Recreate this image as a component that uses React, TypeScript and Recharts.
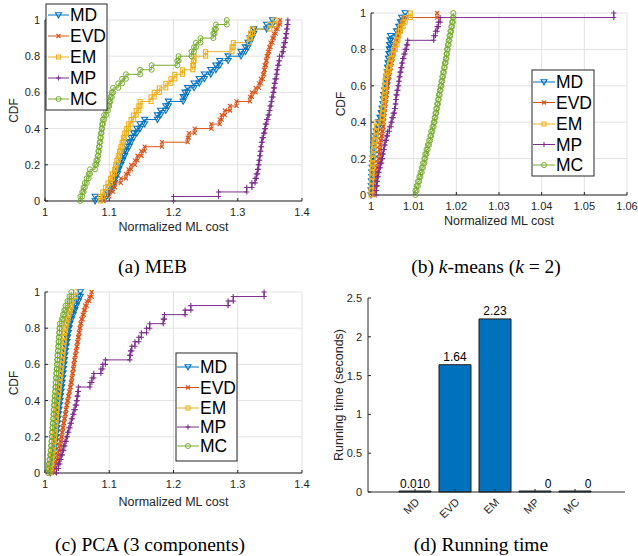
import React from 'react';
import { LineChart, Line, XAxis, YAxis, CartesianGrid, BarChart, Bar, LabelList } from 'recharts';

// ---------------- data ----------------
const methodNames = ['MD', 'EVD', 'EM', 'MP', 'MC'];
const methodColors = ['#0072BD', '#D95319', '#EDB120', '#7E2F8E', '#77AC30'];
const methodMarkers = ['v', 'x', 's', '+', 'o'];

// (a) MEB: sorted normalized ML cost samples per method
const mebMD = [1.078, 1.096, 1.100, 1.104, 1.108, 1.110, 1.113, 1.115, 1.118, 1.121, 1.124, 1.127, 1.131, 1.134, 1.138, 1.143, 1.148, 1.155, 1.175, 1.180, 1.188, 1.192, 1.215, 1.218, 1.222, 1.232, 1.240, 1.248, 1.258, 1.266, 1.272, 1.285, 1.305, 1.312, 1.316, 1.319, 1.322, 1.325, 1.345, 1.354];
const mebEVD = [1.091, 1.100, 1.106, 1.109, 1.118, 1.126, 1.130, 1.134, 1.140, 1.144, 1.150, 1.155, 1.182, 1.222, 1.224, 1.233, 1.259, 1.272, 1.275, 1.280, 1.288, 1.298, 1.319, 1.322, 1.328, 1.333, 1.336, 1.339, 1.341, 1.342, 1.344, 1.345, 1.347, 1.349, 1.351, 1.354, 1.356, 1.359, 1.362, 1.366];
const mebEM = [1.086, 1.090, 1.094, 1.098, 1.102, 1.105, 1.108, 1.110, 1.112, 1.114, 1.116, 1.118, 1.120, 1.122, 1.124, 1.127, 1.130, 1.134, 1.138, 1.142, 1.146, 1.148, 1.165, 1.170, 1.178, 1.188, 1.196, 1.202, 1.214, 1.230, 1.231, 1.232, 1.250, 1.291, 1.293, 1.318, 1.320, 1.323, 1.350, 1.358];
const mebMP = [1.200, 1.270, 1.314, 1.322, 1.327, 1.329, 1.331, 1.332, 1.333, 1.334, 1.335, 1.336, 1.337, 1.338, 1.340, 1.342, 1.343, 1.345, 1.347, 1.349, 1.350, 1.352, 1.353, 1.355, 1.356, 1.357, 1.358, 1.360, 1.361, 1.362, 1.364, 1.365, 1.369, 1.371, 1.372, 1.374, 1.375, 1.376, 1.377, 1.378];
const mebMC = [1.055, 1.058, 1.060, 1.062, 1.065, 1.068, 1.070, 1.078, 1.080, 1.082, 1.083, 1.084, 1.085, 1.086, 1.087, 1.088, 1.089, 1.090, 1.092, 1.095, 1.098, 1.100, 1.102, 1.104, 1.106, 1.114, 1.120, 1.126, 1.148, 1.166, 1.206, 1.208, 1.228, 1.232, 1.235, 1.242, 1.262, 1.264, 1.266, 1.283];

// (b) k-means (k = 2)
const kmMD = [1.0000, 1.0001, 1.0001, 1.0002, 1.0002, 1.0003, 1.0004, 1.0005, 1.0006, 1.0006, 1.0007, 1.0008, 1.0010, 1.0012, 1.0015, 1.0018, 1.0021, 1.0024, 1.0026, 1.0028, 1.0029, 1.0030, 1.0032, 1.0034, 1.0036, 1.0037, 1.0038, 1.0039, 1.0040, 1.0041, 1.0042, 1.0043, 1.0044, 1.0045, 1.0046, 1.0060, 1.0065, 1.0069, 1.0072, 1.0080];
const kmEVD = [1.0004, 1.0006, 1.0008, 1.0010, 1.0012, 1.0014, 1.0016, 1.0018, 1.0019, 1.0020, 1.0021, 1.0022, 1.0024, 1.0026, 1.0028, 1.0029, 1.0030, 1.0031, 1.0032, 1.0033, 1.0034, 1.0036, 1.0037, 1.0038, 1.0039, 1.0041, 1.0043, 1.0045, 1.0047, 1.0049, 1.0051, 1.0053, 1.0055, 1.0057, 1.0061, 1.0065, 1.0068, 1.0072, 1.0076, 1.0155];
const kmEM = [1.0000, 1.0001, 1.0001, 1.0002, 1.0002, 1.0003, 1.0004, 1.0004, 1.0005, 1.0006, 1.0007, 1.0008, 1.0010, 1.0012, 1.0013, 1.0014, 1.0026, 1.0027, 1.0028, 1.0029, 1.0030, 1.0031, 1.0032, 1.0033, 1.0033, 1.0034, 1.0037, 1.0041, 1.0043, 1.0045, 1.0049, 1.0053, 1.0057, 1.0061, 1.0063, 1.0065, 1.0069, 1.0075, 1.0080, 1.0092];
const kmMP = [1.0012, 1.0013, 1.0014, 1.0015, 1.0017, 1.0019, 1.0022, 1.0025, 1.0027, 1.0029, 1.0031, 1.0033, 1.0036, 1.0039, 1.0043, 1.0047, 1.0049, 1.0052, 1.0055, 1.0057, 1.0058, 1.0059, 1.0061, 1.0063, 1.0065, 1.0066, 1.0068, 1.0070, 1.0072, 1.0074, 1.0077, 1.0080, 1.0083, 1.0086, 1.0147, 1.0151, 1.0155, 1.0158, 1.0162, 1.0569];
const kmMC = [1.0104, 1.0107, 1.0110, 1.0113, 1.0116, 1.0119, 1.0122, 1.0125, 1.0127, 1.0130, 1.0133, 1.0136, 1.0139, 1.0141, 1.0144, 1.0147, 1.0149, 1.0151, 1.0153, 1.0155, 1.0157, 1.0159, 1.0161, 1.0163, 1.0165, 1.0167, 1.0169, 1.0171, 1.0173, 1.0175, 1.0177, 1.0178, 1.0180, 1.0182, 1.0184, 1.0186, 1.0188, 1.0190, 1.0192, 1.0193];

// (c) PCA (3 components)
const pcaMD = [1.0080, 1.0095, 1.0108, 1.0120, 1.0132, 1.0144, 1.0156, 1.0164, 1.0172, 1.0180, 1.0187, 1.0195, 1.0202, 1.0210, 1.0218, 1.0226, 1.0234, 1.0242, 1.0251, 1.0260, 1.0267, 1.0274, 1.0281, 1.0288, 1.0295, 1.0302, 1.0310, 1.0320, 1.0330, 1.0340, 1.0352, 1.0364, 1.0376, 1.0390, 1.0415, 1.0440, 1.0465, 1.0490, 1.0520, 1.0550];
const pcaEVD = [1.0150, 1.0165, 1.0180, 1.0195, 1.0210, 1.0225, 1.0238, 1.0250, 1.0262, 1.0274, 1.0285, 1.0298, 1.0310, 1.0322, 1.0334, 1.0345, 1.0360, 1.0374, 1.0388, 1.0402, 1.0415, 1.0425, 1.0435, 1.0445, 1.0455, 1.0466, 1.0478, 1.0490, 1.0502, 1.0514, 1.0526, 1.0538, 1.0550, 1.0565, 1.0585, 1.0605, 1.0625, 1.0650, 1.0690, 1.0725];
const pcaEM = [1.0078, 1.0090, 1.0100, 1.0110, 1.0120, 1.0130, 1.0137, 1.0144, 1.0151, 1.0158, 1.0165, 1.0170, 1.0175, 1.0180, 1.0187, 1.0194, 1.0201, 1.0208, 1.0215, 1.0222, 1.0230, 1.0238, 1.0246, 1.0254, 1.0262, 1.0270, 1.0278, 1.0285, 1.0292, 1.0298, 1.0304, 1.0310, 1.0325, 1.0340, 1.0360, 1.0375, 1.0395, 1.0410, 1.0440, 1.0475];
const pcaMP = [1.018, 1.021, 1.023, 1.025, 1.027, 1.029, 1.031, 1.033, 1.035, 1.037, 1.039, 1.041, 1.043, 1.045, 1.047, 1.049, 1.050, 1.051, 1.052, 1.070, 1.073, 1.076, 1.087, 1.090, 1.094, 1.132, 1.133, 1.135, 1.140, 1.146, 1.150, 1.158, 1.163, 1.184, 1.186, 1.218, 1.227, 1.285, 1.293, 1.341];
const pcaMC = [1.0050, 1.0060, 1.0070, 1.0080, 1.0088, 1.0095, 1.0100, 1.0105, 1.0110, 1.0115, 1.0120, 1.0125, 1.0130, 1.0135, 1.0140, 1.0145, 1.0150, 1.0155, 1.0160, 1.0165, 1.0170, 1.0175, 1.0180, 1.0185, 1.0190, 1.0195, 1.0200, 1.0205, 1.0210, 1.0215, 1.0220, 1.0225, 1.0230, 1.0260, 1.0280, 1.0300, 1.0320, 1.0350, 1.0380, 1.0410];

// (d) Running time
const runningTime = [0.010, 1.64, 2.23, 0, 0];
const runningTimeLabels = ['0.010', '1.64', '2.23', '0', '0'];

// tick values
const cdfTicks = [0, 0.2, 0.4, 0.6, 0.8, 1];
const mebTicks = [1, 1.1, 1.2, 1.3, 1.4];
const kmTicks = [1, 1.01, 1.02, 1.03, 1.04, 1.05, 1.06];
const pcaTicks = [1, 1.1, 1.2, 1.3, 1.4];
const timeTicks = [0, 0.5, 1, 1.5, 2, 2.5];

// ---------------- helpers ----------------
const AXIS = '#262626';
const GRID = '#e2e2e2';
const SANS = "'Liberation Sans', Arial, Helvetica, sans-serif";
const SERIF = "'Liberation Serif', 'Times New Roman', serif";

type Pt = { x: number; y: number };
// empirical CDF drawn as stairs (both corners of every riser), like MATLAB cdfplot
function stairs(values: number[]): Pt[] {
  const n = values.length;
  const out: Pt[] = [];
  values.forEach((v, i) => {
    out.push({ x: v, y: i / n });
    out.push({ x: v, y: (i + 1) / n });
  });
  return out;
}

function Marker({ kind, cx, cy, color }: { kind: string; cx: number; cy: number; color: string }) {
  if (cx == null || cy == null || isNaN(cx) || isNaN(cy)) return <g />;
  switch (kind) {
    case 'v':
      return <path d={`M${cx - 3},${cy - 2.3}L${cx + 3},${cy - 2.3}L${cx},${cy + 2.8}Z`} fill="none" stroke={color} strokeWidth={1.1} />;
    case 'x':
      return <path d={`M${cx - 2},${cy - 2}L${cx + 2},${cy + 2}M${cx - 2},${cy + 2}L${cx + 2},${cy - 2}`} stroke={color} strokeWidth={1.1} fill="none" />;
    case 's':
      return <rect x={cx - 2} y={cy - 2} width={4} height={4} fill="none" stroke={color} strokeWidth={1.1} />;
    case '+':
      return <path d={`M${cx - 2.6},${cy}L${cx + 2.6},${cy}M${cx},${cy - 2.6}L${cx},${cy + 2.6}`} stroke={color} strokeWidth={1.1} fill="none" />;
    default:
      return <circle cx={cx} cy={cy} r={2.5} fill="none" stroke={color} strokeWidth={1} />;
  }
}

type PanelProps = {
  series: number[][];
  xDomain: [number, number];
  xTicks: number[];
  width: number;
  height: number;
  margin: { top: number; right: number; bottom: number; left: number };
  yAxisWidth: number;
};

function CdfPanel({ series, xDomain, xTicks, width, height, margin, yAxisWidth }: PanelProps) {
  return (
    <LineChart width={width} height={height} margin={margin}>
      <CartesianGrid stroke={GRID} strokeWidth={1} />
      <XAxis
        type="number"
        dataKey="x"
        domain={xDomain}
        ticks={xTicks}
        interval={0}
        height={30}
        stroke={AXIS}
        tickSize={-3}
        tickMargin={10}
        tick={{ fill: AXIS, fontSize: 11, fontFamily: SANS }}
      />
      <YAxis
        type="number"
        dataKey="y"
        domain={[0, 1]}
        ticks={cdfTicks}
        interval={0}
        width={yAxisWidth}
        stroke={AXIS}
        tickSize={-3}
        tickMargin={8}
        tick={{ fill: AXIS, fontSize: 11, fontFamily: SANS }}
      />
      {series.map((vals, i) => (
        <Line
          key={methodNames[i]}
          data={stairs(vals)}
          dataKey="y"
          type="linear"
          stroke={methodColors[i]}
          strokeWidth={1}
          isAnimationActive={false}
          activeDot={false}
          dot={(p: any) => <Marker key={`d${i}-${p.index}`} kind={methodMarkers[i]} cx={p.cx} cy={p.cy} color={methodColors[i]} />}
        />
      ))}
    </LineChart>
  );
}

function LegendBox({ x, y, w, h, rows, lineX1, lineX2, textX }: { x: number; y: number; w: number; h: number; rows: number[]; lineX1: number; lineX2: number; textX: number }) {
  return (
    <g>
      <rect x={x} y={y} width={w} height={h} fill="#fff" stroke={AXIS} strokeWidth={1} />
      {methodNames.map((name, i) => (
        <g key={name}>
          <line x1={lineX1} x2={lineX2} y1={rows[i]} y2={rows[i]} stroke={methodColors[i]} strokeWidth={1} />
          <Marker kind={methodMarkers[i]} cx={(lineX1 + lineX2) / 2} cy={rows[i]} color={methodColors[i]} />
          <text x={textX} y={rows[i] + 6.2} fontSize={17.5} fill="#000" fontFamily={SANS}>{name}</text>
        </g>
      ))}
    </g>
  );
}

const RotTick = (props: any) => {
  const { x, y, payload } = props;
  const ax = x + 5;
  return (
    <text x={ax} y={y} transform={`rotate(-45 ${ax} ${y})`} textAnchor="end" fontSize={11} fill={AXIS} fontFamily={SANS}>
      {payload.value}
    </text>
  );
};

const BarValueLabel = (props: any) => {
  const { x, y, width, index } = props;
  const isZero = runningTime[index] === 0;
  return (
    <text x={x + width / 2 + (isZero ? 13 : 0)} y={y - 3.5} textAnchor="middle" fontSize={12} fill="#000" fontFamily={SANS}>
      {runningTimeLabels[index]}
    </text>
  );
};

export default function App() {
  const timeData = methodNames.map((name, i) => ({ name, value: runningTime[i] }));
  return (
    <div style={{ position: 'absolute', left: 0, top: 0, width: 638, height: 556, background: '#fff', fontFamily: SANS, overflow: 'hidden' }}>
      {/* (a) MEB */}
      <div style={{ position: 'absolute', left: 0, top: 0 }}>
        <CdfPanel series={[mebMD, mebEVD, mebEM, mebMP, mebMC]} xDomain={[1, 1.4]} xTicks={mebTicks}
          width={310} height={240} margin={{ top: 20, right: 8, bottom: 9, left: 10 }} yAxisWidth={35} />
      </div>
      {/* (b) k-means */}
      <div style={{ position: 'absolute', left: 320, top: 0 }}>
        <CdfPanel series={[kmMD, kmEVD, kmEM, kmMP, kmMC]} xDomain={[1, 1.06]} xTicks={kmTicks}
          width={318} height={240} margin={{ top: 13, right: 11, bottom: 15, left: 11 }} yAxisWidth={40} />
      </div>
      {/* (c) PCA */}
      <div style={{ position: 'absolute', left: 0, top: 280 }}>
        <CdfPanel series={[pcaMD, pcaEVD, pcaEM, pcaMP, pcaMC]} xDomain={[1, 1.4]} xTicks={pcaTicks}
          width={310} height={240} margin={{ top: 12, right: 8, bottom: 17, left: 10 }} yAxisWidth={35} />
      </div>
      {/* (d) Running time */}
      <div style={{ position: 'absolute', left: 320, top: 280 }}>
        <BarChart width={318} height={240} data={timeData} margin={{ top: 18, right: 13, bottom: 8, left: 10 }}>
          <XAxis dataKey="name" type="category" padding={{ left: 27, right: 30 }} height={20} stroke={AXIS}
            tickSize={-3} tickMargin={14} interval={0} tick={<RotTick />} />
          <YAxis type="number" domain={[0, 2.5]} ticks={timeTicks} interval={0} width={38} stroke={AXIS}
            tickSize={-3} tickMargin={9} tick={{ fill: AXIS, fontSize: 11, fontFamily: SANS }} />
          <Bar dataKey="value" fill="#0072BD" stroke="#1a1a1a" strokeWidth={1} barSize={32} minPointSize={1} isAnimationActive={false}>
            <LabelList dataKey="value" content={<BarValueLabel />} />
          </Bar>
        </BarChart>
      </div>

      {/* overlay: legends, axis titles, captions */}
      <svg width={638} height={556} style={{ position: 'absolute', left: 0, top: 0, pointerEvents: 'none' }}>
        <LegendBox x={46} y={4} w={61} h={106} rows={[15, 36, 57, 78, 99]} lineX1={48} lineX2={69} textX={70} />
        <LegendBox x={532} y={70} w={62} h={106} rows={[82, 102.5, 124, 144.5, 165]} lineX1={533} lineX2={555} textX={556} />
        <LegendBox x={176} y={353} w={61} h={108} rows={[367, 387.5, 408, 427, 446]} lineX1={177} lineX2={199} textX={200} />

        <text transform="translate(18,110.5) rotate(-90)" textAnchor="middle" fontSize={12} fill={AXIS} fontFamily={SANS}>CDF</text>
        <text x={173.5} y={231} textAnchor="middle" fontSize={12.5} fill={AXIS} fontFamily={SANS}>Normalized ML cost</text>

        <text transform="translate(344.5,104) rotate(-90)" textAnchor="middle" fontSize={12} fill={AXIS} fontFamily={SANS}>CDF</text>
        <text x={499} y={224.5} textAnchor="middle" fontSize={12.5} fill={AXIS} fontFamily={SANS}>Normalized ML cost</text>

        <text transform="translate(18,383) rotate(-90)" textAnchor="middle" fontSize={12} fill={AXIS} fontFamily={SANS}>CDF</text>
        <text x={173.5} y={506} textAnchor="middle" fontSize={12.5} fill={AXIS} fontFamily={SANS}>Normalized ML cost</text>

        <text transform="translate(342.5,395) rotate(-90)" textAnchor="middle" fontSize={12.5} fill={AXIS} fontFamily={SANS}>Running time (seconds)</text>

        <text x={152.5} y={273} textAnchor="middle" fontSize={19.5} fill="#000" fontFamily={SERIF}>(a) MEB</text>
        <text x={486} y={273} textAnchor="middle" fontSize={19.5} fill="#000" fontFamily={SERIF}>
          (b) <tspan fontStyle="italic">k</tspan>-means (<tspan fontStyle="italic">k</tspan> = 2)
        </text>
        <text x={150} y={551} textAnchor="middle" fontSize={19.5} fill="#000" fontFamily={SERIF}>(c) PCA (3 components)</text>
        <text x={481} y={551} textAnchor="middle" fontSize={19.5} fill="#000" fontFamily={SERIF}>(d) Running time</text>
      </svg>
    </div>
  );
}
